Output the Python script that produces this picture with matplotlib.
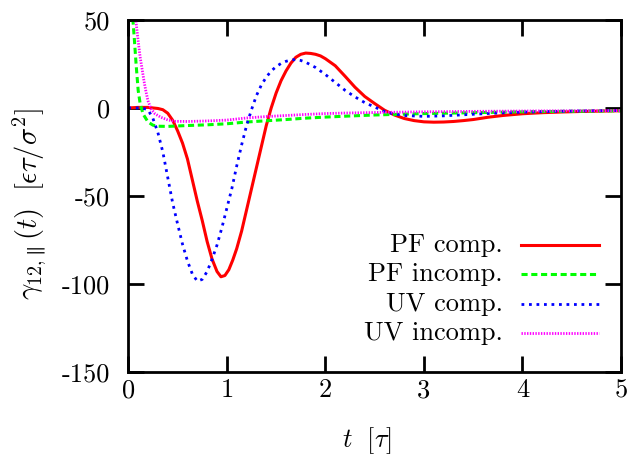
import numpy as np
import matplotlib
matplotlib.use("Agg")
import matplotlib.pyplot as plt

plt.rcParams["font.family"] = "serif"
plt.rcParams["font.serif"] = ["cmr10"]
plt.rcParams["mathtext.fontset"] = "cm"
plt.rcParams["axes.formatter.use_mathtext"] = True

# PF, compressible
pf_comp_t = [0, 0.1, 0.2, 0.3, 0.35, 0.4, 0.45, 0.5, 0.55, 0.6, 0.65, 0.7, 0.75, 0.8,
             0.85, 0.9, 0.94, 0.98, 1.02, 1.06, 1.1, 1.15, 1.2, 1.25, 1.3, 1.35, 1.4,
             1.45, 1.5, 1.55, 1.6, 1.65, 1.7, 1.75, 1.8, 1.85, 1.9, 1.95, 2.0, 2.1,
             2.2, 2.3, 2.4, 2.5, 2.6, 2.7, 2.8, 2.9, 3.0, 3.1, 3.2, 3.3, 3.4, 3.5,
             3.65, 3.8, 4.0, 4.2, 4.4, 4.6, 4.8, 5.0]
pf_comp = [0, 0.3, 0.3, -0.3, -1, -3, -7, -13, -20, -29, -41, -53, -64, -76,
           -86, -93, -96, -95.3, -92, -86.5, -80, -70, -58, -46, -34, -22, -10,
           0, 8.5, 15.5, 21, 25.5, 28.8, 30.5, 31.2, 31, 30.5, 29.6, 28, 24,
           18, 11.8, 6.5, 2.5, -1.3, -4, -6, -7.2, -7.9, -8.1, -8, -7.7, -7.2, -6.6,
           -5.3, -4.3, -3.3, -2.7, -2.3, -2.0, -1.8, -1.6]

# PF, incompressible
pf_incomp_t = [0, 0.02, 0.04, 0.06, 0.08, 0.1, 0.12, 0.15, 0.2, 0.25, 0.3, 0.4, 0.6,
               0.8, 1.0, 1.2, 1.4, 1.6, 1.8, 2.0, 2.2, 2.5, 3.0, 3.5, 4.0, 4.5, 5.0]
pf_incomp = [110, 80, 55, 40, 24, 10, 2.5, -3.5, -8, -9.8, -10.4, -10.5, -10,
             -9.6, -9, -8, -7.3, -6.6, -5.8, -5.2, -4.7, -4.0, -3.2, -2.7, -2.2, -1.9, -1.6]

# UV, compressible
uv_comp_t = [0, 0.1, 0.15, 0.2, 0.25, 0.3, 0.35, 0.4, 0.45, 0.5, 0.55, 0.6, 0.65, 0.7,
             0.75, 0.8, 0.85, 0.9, 0.95, 1.0, 1.05, 1.1, 1.15, 1.2, 1.25, 1.3, 1.35,
             1.4, 1.45, 1.5, 1.55, 1.6, 1.65, 1.7, 1.75, 1.8, 1.9, 2.0, 2.1, 2.2,
             2.3, 2.4, 2.5, 2.6, 2.7, 2.8, 3.0, 3.2, 3.4, 3.6, 3.8, 4.0, 4.3, 4.6, 5.0]
uv_comp = [0, 0, -0.2, -1, -6, -14, -25, -39.5, -54, -66, -77.5, -87, -94.5, -98.5,
           -97.5, -93, -86, -78, -68, -57, -46, -33, -21, -10, -1, 7, 13,
           17.5, 21, 23.5, 25.3, 26.5, 27.3, 27.5, 27, 26, 23, 19, 14.5, 10,
           6.3, 3, 0.5, -2, -3.5, -4.3, -4.8, -4.5, -3.9, -3.3, -2.8, -2.4, -2.0, -1.7, -1.5]

# UV, incompressible
uv_incomp_t = [0, 0.03, 0.06, 0.08, 0.1, 0.12, 0.14, 0.16, 0.18, 0.2, 0.23, 0.27, 0.33,
               0.4, 0.47, 0.6, 0.8, 1.0, 1.2, 1.4, 1.6, 1.8, 2.0, 2.2, 2.6, 3.0, 3.6,
               4.2, 5.0]
uv_incomp = [100, 80, 60, 48, 38, 29, 22, 15, 9, 4, -0.5, -3.3, -5.3,
             -6.8, -7.6, -7.7, -7.4, -6.9, -5.7, -4.9, -4.3, -3.7, -3.2, -2.9, -2.5, -2.2, -1.9,
             -1.7, -1.5]

labels = ["PF comp.", "PF incomp.", "UV comp.", "UV incomp."]
colors = ["#ff0000", "#00ff00", "#0000ff", "#ff00ff"]
styles = ["-", (0, (2.0, 1.2)), (0, (1.0, 1.7)), (0, (0.5, 0.5))]
widths = [2.2, 2.2, 2.0, 2.0]

xticks = [0, 1, 2, 3, 4, 5]
yticks = [-150, -100, -50, 0, 50]

fig = plt.figure(figsize=(6.34, 4.58), dpi=100)
ax = fig.add_axes([0.2024, 0.1884, 0.7771, 0.7679])

series = [(pf_comp_t, pf_comp), (pf_incomp_t, pf_incomp),
          (uv_comp_t, uv_comp), (uv_incomp_t, uv_incomp)]
for (t, g), c, ls, lw in zip(series, colors, styles, widths):
    ax.plot(t, g, color=c, linestyle=ls, linewidth=lw)

ax.set_xlim(0, 5)
ax.set_ylim(-150, 50)
ax.set_xticks(xticks, [str(v) for v in xticks])
ax.set_yticks(yticks, [str(v) for v in yticks])
ax.tick_params(direction="in", length=11.5, width=2, labelsize=19,
               top=True, right=True, pad=13)
ax.tick_params(axis="x", pad=5)
for sp in ax.spines.values():
    sp.set_linewidth(2)

# gnuplot-style key: right-aligned text, line sample after it
key_y = [0.360, 0.278, 0.193, 0.110]
for y, lab, c, ls, lw in zip(key_y, labels, colors, styles, widths):
    ax.plot([0.797, 0.955], [y, y], color=c, linestyle=ls, linewidth=lw,
            transform=ax.transAxes)
    ax.text(0.7605, y - 0.019, lab, ha="right", va="baseline", fontsize=19,
            transform=ax.transAxes)

fig.text(367 / 634, 1 - 441 / 458, r"$t\ \ [\tau]$", ha="center", va="center",
         fontsize=19)
fig.text(30 / 634, 1 - 204 / 458,
         r"$\gamma_{12,\!\parallel}(t)\ \ [\epsilon\tau/\sigma^2]$",
         ha="center", va="center", rotation=90, fontsize=20.5)

fig.savefig("out.png", dpi=100)
